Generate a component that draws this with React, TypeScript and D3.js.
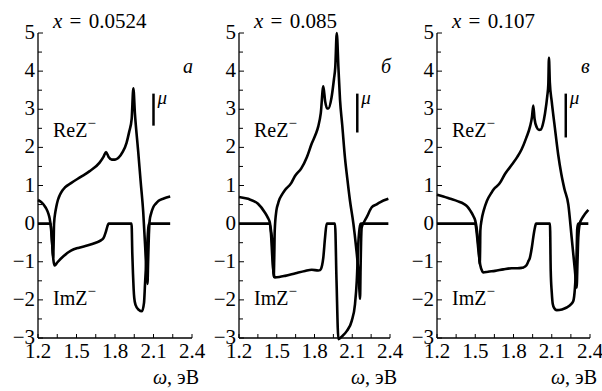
import React from 'react';
import * as d3 from 'd3';

// omega (eV) vs Z^- ; three compositions
const titles = ['0.0524', '0.085', '0.107'];
const letters = ['а', 'б', 'в'];
const xTicks = [1.2, 1.5, 1.8, 2.1, 2.4];
const yTicks = [-3, -2, -1, 0, 1, 2, 3, 4, 5];

const reA: [number, number][] = [
  [1.2, 0.62], [1.23, 0.55], [1.25, 0.47], [1.265, 0.39], [1.28, 0.27], [1.29, 0.15],
  [1.3, -0.08], [1.31, -0.5], [1.318, -0.9], [1.322, -0.5], [1.325, 0], [1.335, 0.3],
  [1.343, 0.45], [1.355, 0.62], [1.37, 0.75], [1.39, 0.87], [1.41, 0.95], [1.46, 1.07],
  [1.53, 1.22], [1.6, 1.37], [1.68, 1.6], [1.71, 1.75], [1.73, 1.88], [1.75, 1.75],
  [1.775, 1.68], [1.8, 1.68], [1.825, 1.72], [1.86, 1.88], [1.89, 2.12], [1.91, 2.4],
  [1.93, 2.75], [1.943, 3.55], [1.955, 2.9], [1.98, 1.92], [2.0, 1.1], [2.02, 0.3],
  [2.035, -0.6], [2.047, -1.4], [2.053, -1.58], [2.058, -1.0], [2.064, -0.3], [2.07, 0.08],
  [2.08, 0.25], [2.098, 0.43], [2.12, 0.53], [2.14, 0.6], [2.18, 0.66], [2.23, 0.71],
];
const imA: [number, number][] = [
  [1.2, 0], [1.299, 0], [1.31, -0.5], [1.32, -0.95], [1.33, -1.1], [1.35, -1.02],
  [1.4, -0.85], [1.457, -0.71], [1.52, -0.63], [1.59, -0.57], [1.65, -0.5], [1.69, -0.44],
  [1.71, -0.38], [1.73, -0.2], [1.745, -0.03], [1.75, 0], [1.929, 0], [1.935, -0.8],
  [1.94, -1.3], [1.945, -1.7], [1.95, -1.95], [1.96, -2.13], [1.985, -2.26], [2.01, -2.3],
  [2.026, -2.08], [2.034, -1.58], [2.047, -0.79], [2.06, -0.1], [2.066, 0], [2.23, 0],
];

const reB: [number, number][] = [
  [1.2, 0.7], [1.272, 0.65], [1.351, 0.52], [1.404, 0.3], [1.43, 0.15], [1.444, 0.04],
  [1.455, -0.2], [1.462, -0.4], [1.47, -1.0], [1.476, -1.4], [1.48, -0.9], [1.484, -0.18],
  [1.497, 0.34], [1.51, 0.52], [1.523, 0.65], [1.539, 0.75], [1.563, 0.87], [1.616, 1.07],
  [1.645, 1.25], [1.695, 1.45], [1.74, 1.75], [1.778, 2.1], [1.81, 2.35], [1.83, 2.55],
  [1.85, 2.9], [1.87, 3.6], [1.885, 3.2], [1.9, 3.02], [1.91, 3.02], [1.935, 3.3],
  [1.955, 3.8], [1.965, 4.1], [1.977, 5.0], [1.99, 4.1], [2.003, 3.24], [2.02, 2.6],
  [2.043, 1.7], [2.06, 1.2], [2.082, 0.6], [2.109, 0], [2.13, -0.6], [2.148, -1.24],
  [2.158, -1.8], [2.162, -1.97], [2.166, -1.2], [2.17, -0.5], [2.175, -0.1], [2.195, 0.05],
  [2.215, 0.17], [2.255, 0.43], [2.29, 0.5], [2.32, 0.56], [2.387, 0.65],
];
const imB: [number, number][] = [
  [1.2, 0], [1.444, 0], [1.455, -0.3], [1.465, -0.9], [1.475, -1.3], [1.486, -1.41],
  [1.52, -1.4], [1.566, -1.37], [1.65, -1.3], [1.725, -1.24], [1.778, -1.21], [1.83, -1.23],
  [1.844, -1.22], [1.86, -1.1], [1.87, -0.89], [1.884, -0.36], [1.897, 0], [1.963, 0],
  [1.975, -1.5], [1.99, -3.03], [2.02, -2.95], [2.056, -2.82], [2.096, -2.55], [2.122, -2.11],
  [2.136, -1.5], [2.148, -0.53], [2.162, -0.05], [2.168, 0], [2.387, 0],
];

const reC: [number, number][] = [
  [1.2, 0.76], [1.25, 0.71], [1.305, 0.65], [1.36, 0.59], [1.41, 0.52], [1.44, 0.44],
  [1.461, 0.34], [1.485, 0.2], [1.5, 0.08], [1.51, -0.1], [1.519, -0.36], [1.53, -0.8],
  [1.535, -1.06], [1.538, -0.7], [1.54, -0.18], [1.55, 0.1], [1.566, 0.34], [1.592, 0.6],
  [1.629, 0.82], [1.645, 0.9], [1.69, 1.05], [1.733, 1.3], [1.788, 1.55], [1.83, 1.75],
  [1.864, 1.95], [1.9, 2.25], [1.93, 2.55], [1.945, 2.8], [1.955, 3.1], [1.965, 2.75],
  [1.982, 2.53], [2.0, 2.46], [2.015, 2.47], [2.03, 2.6], [2.047, 2.89], [2.065, 3.35],
  [2.073, 3.65], [2.078, 4.35], [2.085, 3.7], [2.1, 3.2], [2.125, 2.5], [2.151, 1.8],
  [2.175, 1.3], [2.2, 0.9], [2.23, 0.5], [2.256, -0.36], [2.282, -1.24], [2.295, -1.68],
  [2.302, -1.0], [2.308, -0.36], [2.32, 0], [2.34, 0.15], [2.36, 0.25], [2.387, 0.36],
];
const imC: [number, number][] = [
  [1.2, 0], [1.5, 0], [1.51, -0.2], [1.525, -0.7], [1.54, -1.1], [1.555, -1.25],
  [1.563, -1.28], [1.6, -1.26], [1.655, -1.24], [1.72, -1.2], [1.786, -1.17], [1.83, -1.17],
  [1.864, -1.16], [1.877, -1.15], [1.9, -1.1], [1.915, -1.0], [1.929, -0.89], [1.945, -0.6],
  [1.955, -0.36], [1.969, -0.09], [1.977, 0], [2.086, 0], [2.092, -1.24], [2.1, -1.8],
  [2.108, -2.11], [2.12, -2.22], [2.139, -2.27], [2.18, -2.25], [2.217, -2.2], [2.25, -2.12],
  [2.269, -2.03], [2.282, -1.68], [2.29, -1.2], [2.295, -0.8], [2.3, -0.13], [2.308, 0],
  [2.387, 0],
];

const reSeries = [reA, reB, reC];
const imSeries = [imA, imB, imC];

// chemical potential marker (omega, top, bottom)
const muW = [2.1, 2.14, 2.21];
const muTop = [3.41, 3.41, 3.41];
const muBottom = [2.57, 2.39, 2.26];

const serif = { fontFamily: 'Liberation Serif' };
const serifIt = { fontFamily: 'Liberation Serif', fontStyle: 'italic' };
const panelLeft = [38, 239, 437];
const panelWidth = [154, 151, 153];
const top = 33;
const bottom = 338;

function Panel({ i }: { i: number }) {
  const left = panelLeft[i];
  const right = left + panelWidth[i];
  const x = d3.scaleLinear().domain([1.2, 2.4]).range([left, right]);
  const y = d3.scaleLinear().domain([-3, 5]).range([bottom, top]);
  const line = d3.line<[number, number]>()
    .x(d => x(d[0]))
    .y(d => y(d[1]))
    .curve(d3.curveMonotoneX);

  const yMinor = d3.range(-3, 5.01, 0.5);
  const xMinor = d3.range(1.2, 2.401, 0.15);

  return (
    <g>
      <text x={left + 15} y={28} fontSize={21} style={{ ...serif, wordSpacing: 2 }}>
        <tspan style={serifIt}>x</tspan> = {titles[i]}
      </text>
      <text x={right - 9} y={73} fontSize={20} style={serifIt}>{letters[i]}</text>

      <line x1={left} x2={left} y1={top} y2={bottom} stroke="#000" strokeWidth={1.3} />
      <line x1={left} x2={right} y1={bottom} y2={bottom} stroke="#000" strokeWidth={1.3} />
      {yMinor.map(v => (
        <line key={'yt' + v} x1={left} x2={left + (Number.isInteger(v) ? 5 : 4)}
          y1={y(v)} y2={y(v)} stroke="#000" strokeWidth={1} />
      ))}
      {xMinor.map(w => (
        <line key={'xt' + w} x1={x(w)} x2={x(w)} y1={bottom} y2={bottom - 4}
          stroke="#000" strokeWidth={1} />
      ))}
      {yTicks.map(v => (
        <text key={'yl' + v} x={left - 3} y={y(v) + 6} fontSize={21} style={serif}
          textAnchor="end">{v < 0 ? '\u2212' + Math.abs(v) : v}</text>
      ))}
      {xTicks.map(w => (
        <text key={'xl' + w} x={x(w)} y={358} fontSize={21} style={serif}
          textAnchor="middle">{w.toFixed(1)}</text>
      ))}
      <text x={right + 7} y={384} fontSize={20} style={serif} textAnchor="end">
        <tspan style={serifIt}>ω</tspan>, эВ
      </text>

      <path d={line(imSeries[i]) ?? ''} fill="none" stroke="#000" strokeWidth={2.6}
        strokeLinejoin="round" />
      <path d={line(reSeries[i]) ?? ''} fill="none" stroke="#000" strokeWidth={2.6}
        strokeLinejoin="round" />

      <line x1={x(muW[i])} x2={x(muW[i])} y1={y(muTop[i])} y2={y(muBottom[i])}
        stroke="#000" strokeWidth={2.5} />
      <text x={x(muW[i]) + 4} y={y(muTop[i]) + 10} fontSize={19} style={serifIt}>μ</text>

      <text x={left + 15} y={137} fontSize={20} style={serif}>
        ReZ<tspan dy={-9} fontSize={15}>−</tspan>
      </text>
      <text x={left + 15} y={305} fontSize={20} style={serif}>
        ImZ<tspan dy={-9} fontSize={15}>−</tspan>
      </text>
    </g>
  );
}

export default function App() {
  return (
    <svg width={602} height={391} style={{ position: 'absolute', left: 0, top: 0, background: '#fff' }}>
      <rect width={602} height={391} fill="#fff" />
      {[0, 1, 2].map(i => <Panel key={i} i={i} />)}
    </svg>
  );
}
